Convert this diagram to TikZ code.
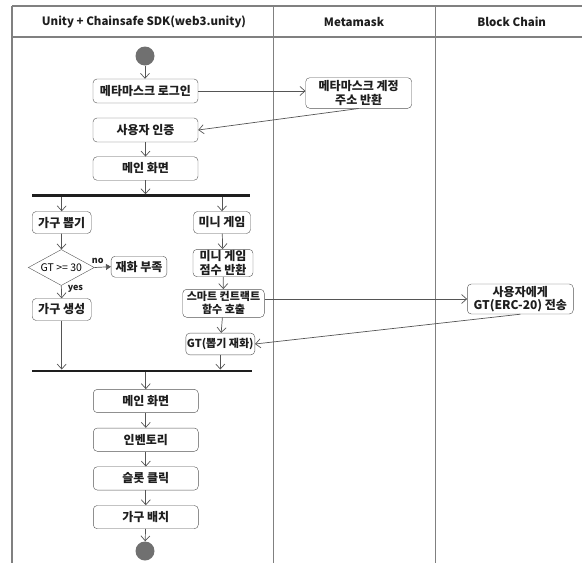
\documentclass[tikz,border=0pt]{standalone}
\usepackage{fontspec}
\setmainfont{Noto Sans CJK KR}
\usepackage{tikz}
\usetikzlibrary{arrows.meta,positioning,shapes.geometric}
\definecolor{ink}{RGB}{30,30,30}
\definecolor{edge}{RGB}{85,85,85}
\definecolor{lanec}{RGB}{128,128,128}
\definecolor{dot}{RGB}{112,112,112}
\tikzset{
  act/.style={draw=edge,rounded corners=4pt,fill=white,text=ink,align=center,inner sep=0.5pt,font=\bfseries\fontsize{12}{13.5}\selectfont},
  wact/.style={act,minimum width=105pt,minimum height=24pt},
  sact/.style={act,minimum height=22pt},
  decision/.style={diamond,draw=edge,fill=white,minimum width=66pt,minimum height=36pt,inner sep=0pt},
  startdot/.style={circle,fill=dot,minimum size=19pt,inner sep=0pt},
  syncbar/.style={fill=ink,minimum height=2.5pt,inner sep=0pt},
  arr/.style={-{Straight Barb[length=5pt,width=9pt]},edge,line width=0.7pt},
  farr/.style={-{Triangle[length=5pt,width=6pt]},edge,line width=0.7pt},
  lane/.style={lanec,line width=1.4pt},
  head/.style={font=\bfseries\fontsize{11.5}{13}\selectfont,text=ink},
  tag/.style={font=\bfseries\fontsize{9}{10}\selectfont,text=ink,inner sep=1pt},
}

\begin{document}
\begin{tikzpicture}[x=1pt,y=-1pt,node distance=15pt]
  \useasboundingbox (0,0) rectangle (582,563);
  \clip (0,0) rectangle (582,563);

  % swimlanes
  \draw[lane] (12,6) -- (600,6);
  \draw[lane] (12,37) -- (600,37);
  \draw[lane] (12,6) -- (12,570);
  \draw[lane] (273.3,6) -- (273.3,570);
  \draw[lane] (435.7,6) -- (435.7,570);
  \node[head] (hd1) at (144,22){Unity + Chainsafe SDK(web3.unity)};
  \node[head] (hd2) at (354,22){Metamask};
  \node[head] (hd3) at (511.7,22){Block Chain};

  % login
  \node[startdot] (init) at (145,56){};
  \node[wact] (login) at (145.5,91){메타마스크 로그인};
  \node[act,minimum width=106pt,minimum height=30.6pt] (acct) at (358.7,93){메타마스크 계정\\주소 반환};
  \node[wact] (auth) at (145.5,130){사용자 인증};
  \node[wact,minimum height=23.5pt] (main1) at (145.5,168.5){메인 화면};
  \draw[arr](init)--(init|-login.north);
  \draw[arr](login.east)--(login.east-|acct.west);
  \draw[arr](acct.south)--(auth.east);
  \draw[arr](auth)--(main1);

  % fork
  \node[syncbar,minimum width=218pt] (fork) at (141,195.7){};
  \draw[arr](main1.south)--(main1.south|-fork.north);

  % furniture draw
  \node[sact,minimum width=59pt] (pick) at (61.7,222.5){가구 뽑기};
  \node[decision,label={center:{\fontsize{10.5}{12}\selectfont GT >= 30}}] (chk) at (61.3,267.5){};
  \node[sact,minimum width=55.7pt,minimum height=21pt] (short) at (139,266.7){재화 부족};
  \node[sact,minimum width=59pt] (make) at (61.7,309.5){가구 생성};
  \draw[arr](pick.north|-fork.south)--(pick.north);
  \draw[arr](pick)--(chk);
  \draw[farr](chk.east)--node[tag,pos=0.2,above=2pt]{no}(short.west);
  \draw[arr](chk.south)--node[tag,pos=0.25,right=5pt]{yes}(make.north);

  % mini game
  \node[sact,minimum width=57pt] (mini) at (222,222.5){미니 게임};
  \node[act,minimum width=60pt,minimum height=27.4pt] (score) at (223,263){미니 게임\\점수 반환};
  \node[act,minimum width=81.6pt,minimum height=28pt,font=\bfseries\fontsize{11}{13}\selectfont] (smart) at (223.5,303.3){스마트 컨트랙트\\함수 호출};
  \node[act,minimum width=106pt,minimum height=30pt] (send) at (520.3,299){사용자에게\\GT(ERC-20) 전송};
  \node[sact,minimum width=69pt,minimum height=21.7pt,font=\bfseries\fontsize{11}{13}\selectfont] (gt) at (220.3,344){GT(뽑기 재화)};
  \draw[arr](mini.north|-fork.south)--(mini.north);
  \draw[arr](mini)--(score);
  \draw[arr](score)--(smart);
  \draw[arr](smart.east|-send.west)--(send.west);
  \draw[arr](send.south)--(gt.east);
  \draw[arr](smart)--(gt);

  % join
  \node[syncbar,minimum width=220pt] (join) at (142.3,371){};
  \draw[arr](make.south)--(make.south|-join.north);
  \draw[arr](gt.south)--(gt.south|-join.north);

  % inventory
  \node[wact,minimum height=23.3pt] (main2) at (145.8,401){메인 화면};
  \node[wact,minimum height=23.3pt,below=of main2] (inv){인벤토리};
  \node[wact,minimum height=23.3pt,below=of inv] (slot){슬롯 클릭};
  \node[wact,minimum height=23.3pt,below=of slot] (place){가구 배치};
  \node[startdot] (fin) at (145,551){};
  \draw[arr](join.south-|main2.north)--(main2.north);
  \draw[arr](main2)--(inv);
  \draw[arr](inv)--(slot);
  \draw[arr](slot)--(place);
  \draw[arr](place)--(fin);
\end{tikzpicture}
\end{document}
